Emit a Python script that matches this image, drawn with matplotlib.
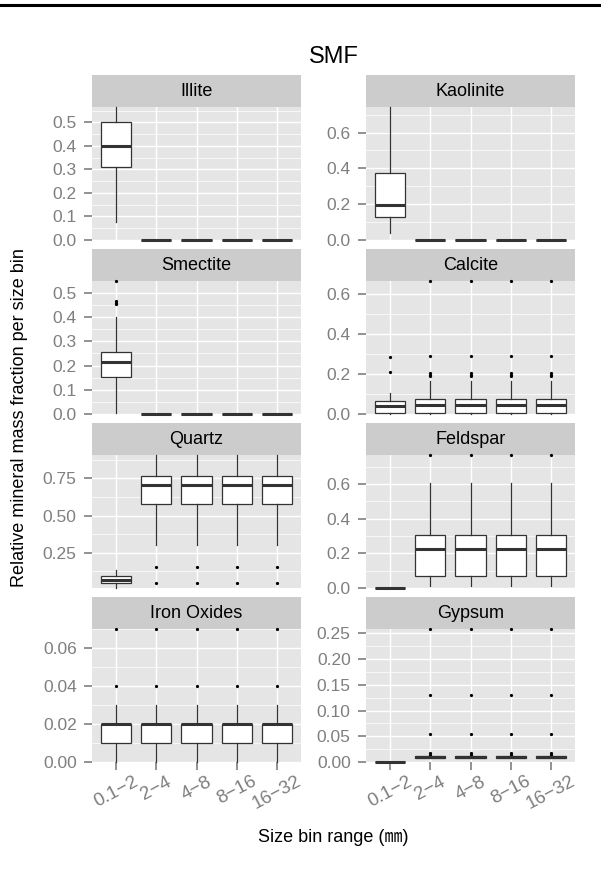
import matplotlib
matplotlib.use('Agg')
import matplotlib.pyplot as plt
from matplotlib.lines import Line2D

plt.rcParams['font.family'] = ['Liberation Sans', 'Noto Sans CJK JP']

# panels, in reading order (2 columns)
minerals = ['Illite', 'Kaolinite', 'Smectite', 'Calcite',
            'Quartz', 'Feldspar', 'Iron Oxides', 'Gypsum']
bins = ['0.1−2', '2−4', '4−8', '8−16', '16−32']

# box statistics, one row per mineral, one value per bin
whislo = [[0.078, 0.0, 0.0, 0.0, 0.0],
          [0.037, 0.0, 0.0, 0.0, 0.0],
          [0.005, 0.0, 0.0, 0.0, 0.0],
          [0.0, 0.0, 0.0, 0.0, 0.0],
          [0.014, 0.306, 0.306, 0.306, 0.306],
          [0.0, 0.01, 0.01, 0.01, 0.01],
          [0.0, 0.0, 0.0, 0.0, 0.0],
          [0.0, 0.008, 0.008, 0.008, 0.008]]
q1 = [[0.311, 0.0, 0.0, 0.0, 0.0],
      [0.127, 0.0, 0.0, 0.0, 0.0],
      [0.154, 0.0, 0.0, 0.0, 0.0],
      [0.003, 0.003, 0.003, 0.003, 0.003],
      [0.049, 0.578, 0.578, 0.578, 0.578],
      [0.0, 0.067, 0.067, 0.067, 0.067],
      [0.01, 0.01, 0.01, 0.01, 0.01],
      [0.0, 0.008, 0.008, 0.008, 0.008]]
med = [[0.40, 0.0, 0.0, 0.0, 0.0],
       [0.196, 0.0, 0.0, 0.0, 0.0],
       [0.214, 0.0, 0.0, 0.0, 0.0],
       [0.038, 0.047, 0.047, 0.047, 0.047],
       [0.068, 0.705, 0.705, 0.705, 0.705],
       [0.0, 0.224, 0.224, 0.224, 0.224],
       [0.02, 0.02, 0.02, 0.02, 0.02],
       [0.0, 0.01, 0.01, 0.01, 0.01]]
q3 = [[0.50, 0.0, 0.0, 0.0, 0.0],
      [0.376, 0.0, 0.0, 0.0, 0.0],
      [0.257, 0.0, 0.0, 0.0, 0.0],
      [0.067, 0.074, 0.074, 0.074, 0.074],
      [0.092, 0.764, 0.764, 0.764, 0.764],
      [0.0, 0.308, 0.308, 0.308, 0.308],
      [0.02, 0.02, 0.02, 0.02, 0.02],
      [0.0, 0.012, 0.012, 0.012, 0.012]]
whishi = [[0.565, 0.0, 0.0, 0.0, 0.0],
          [0.743, 0.0, 0.0, 0.0, 0.0],
          [0.40, 0.0, 0.0, 0.0, 0.0],
          [0.104, 0.168, 0.168, 0.168, 0.168],
          [0.137, 0.907, 0.907, 0.907, 0.907],
          [0.0, 0.604, 0.604, 0.604, 0.604],
          [0.03, 0.03, 0.03, 0.03, 0.03],
          [0.0, 0.012, 0.012, 0.012, 0.012]]
calcite_out = [0.19, 0.197, 0.205, 0.289, 0.667]
quartz_out = [0.047, 0.155]
iron_out = [0.04, 0.0702]
gypsum_out = [0.014, 0.018, 0.055, 0.13, 0.2585]
fliers = [[[], [], [], [], []],
          [[], [], [], [], []],
          [[0.452, 0.46, 0.468, 0.549], [], [], [], []],
          [[0.21, 0.285], calcite_out, calcite_out, calcite_out, calcite_out],
          [[], quartz_out, quartz_out, quartz_out, quartz_out],
          [[], [0.768], [0.768], [0.768], [0.768]],
          [iron_out, iron_out, iron_out, iron_out, iron_out],
          [[], gypsum_out, gypsum_out, gypsum_out, gypsum_out]]

# free y scales
ylims = [(0, 0.565), (0, 0.743), (0, 0.549), (0, 0.667),
         (0.014, 0.907), (0, 0.768), (0, 0.0702), (0, 0.2585)]
yticks = [[0, 0.1, 0.2, 0.3, 0.4, 0.5], [0, 0.2, 0.4, 0.6],
          [0, 0.1, 0.2, 0.3, 0.4, 0.5], [0, 0.2, 0.4, 0.6],
          [0.25, 0.5, 0.75], [0, 0.2, 0.4, 0.6],
          [0, 0.02, 0.04, 0.06], [0, 0.05, 0.1, 0.15, 0.2, 0.25]]
ytlabels = [['0.0', '0.1', '0.2', '0.3', '0.4', '0.5'], ['0.0', '0.2', '0.4', '0.6'],
            ['0.0', '0.1', '0.2', '0.3', '0.4', '0.5'], ['0.0', '0.2', '0.4', '0.6'],
            ['0.25', '0.50', '0.75'], ['0.0', '0.2', '0.4', '0.6'],
            ['0.00', '0.02', '0.04', '0.06'],
            ['0.00', '0.05', '0.10', '0.15', '0.20', '0.25']]

W, H = 601, 871
fig = plt.figure(figsize=(W / 100, H / 100), dpi=100)

col_x = [92, 366]
pw, sh, ph, step = 209, 32, 133, 174
grey = '#7F7F7F'
dark = '#333333'

for i, name in enumerate(minerals):
    r, c = divmod(i, 2)
    top = 75 + r * step
    sax = fig.add_axes([col_x[c] / W, 1 - (top + sh) / H, pw / W, sh / H])
    sax.set_facecolor('#CCCCCC')
    sax.set_xticks([])
    sax.set_yticks([])
    for s in sax.spines.values():
        s.set_visible(False)
    sax.text(0.5, 0.5, name, ha='center', va='center', fontsize=13)

    ax = fig.add_axes([col_x[c] / W, 1 - (top + sh + ph) / H, pw / W, ph / H])
    ax.set_facecolor('#E5E5E5')
    stats = [dict(whislo=whislo[i][j], q1=q1[i][j], med=med[i][j], q3=q3[i][j],
                  whishi=whishi[i][j], fliers=fliers[i][j]) for j in range(5)]
    bp = ax.bxp(stats, positions=range(1, 6), widths=0.75, showcaps=False,
                patch_artist=True,
                boxprops=dict(facecolor='white', edgecolor=dark, linewidth=0.9),
                medianprops=dict(color=dark, linewidth=2.2),
                whiskerprops=dict(color=dark, linewidth=0.9),
                flierprops=dict(marker='o', markersize=1.3, markerfacecolor='black',
                                markeredgecolor='black', linestyle='none'))
    for arts in bp.values():
        for a in arts:
            a.set_clip_on(False)
    ax.set_xlim(0.4, 5.6)
    ax.set_ylim(*ylims[i])
    yt = yticks[i]
    ax.set_yticks(yt)
    ax.set_yticklabels(ytlabels[i])
    d = yt[1] - yt[0]
    minors = [yt[0] - d / 2] + [v + d / 2 for v in yt]
    ax.set_yticks([m for m in minors if ylims[i][0] <= m <= ylims[i][1]], minor=True)
    ax.set_xticks(range(1, 6))
    ax.set_axisbelow(True)
    ax.grid(which='major', color='white', linewidth=1.0)
    ax.grid(which='minor', axis='y', color='white', linewidth=0.5)
    for s in ax.spines.values():
        s.set_visible(False)
    ax.tick_params(axis='y', which='major', length=6, width=1.2, color=grey,
                   labelcolor=grey, labelsize=12.5, pad=5)
    ax.tick_params(which='minor', length=0)
    if r == 3:
        ax.set_xticklabels(bins, rotation=28, ha='center')
        ax.tick_params(axis='x', length=6, width=1.2, color=grey,
                       labelcolor=grey, labelsize=13.5, pad=2)
    else:
        ax.tick_params(axis='x', length=0, labelbottom=False)

fig.text(334 / W, 1 - 57 / H, 'SMF', ha='center', va='center', fontsize=17)
fig.text(333 / W, 1 - 837 / H, 'Size bin range (㎜)', ha='center', va='center', fontsize=13)
fig.text(20 / W, 1 - 418 / H, 'Relative mineral mass fraction per size bin',
         ha='center', va='center', rotation=90, fontsize=13)
fig.add_artist(Line2D([0, 1], [1 - 5 / H, 1 - 5 / H], transform=fig.transFigure,
                      color='black', linewidth=2.2))

fig.savefig('out.png', dpi=100)
